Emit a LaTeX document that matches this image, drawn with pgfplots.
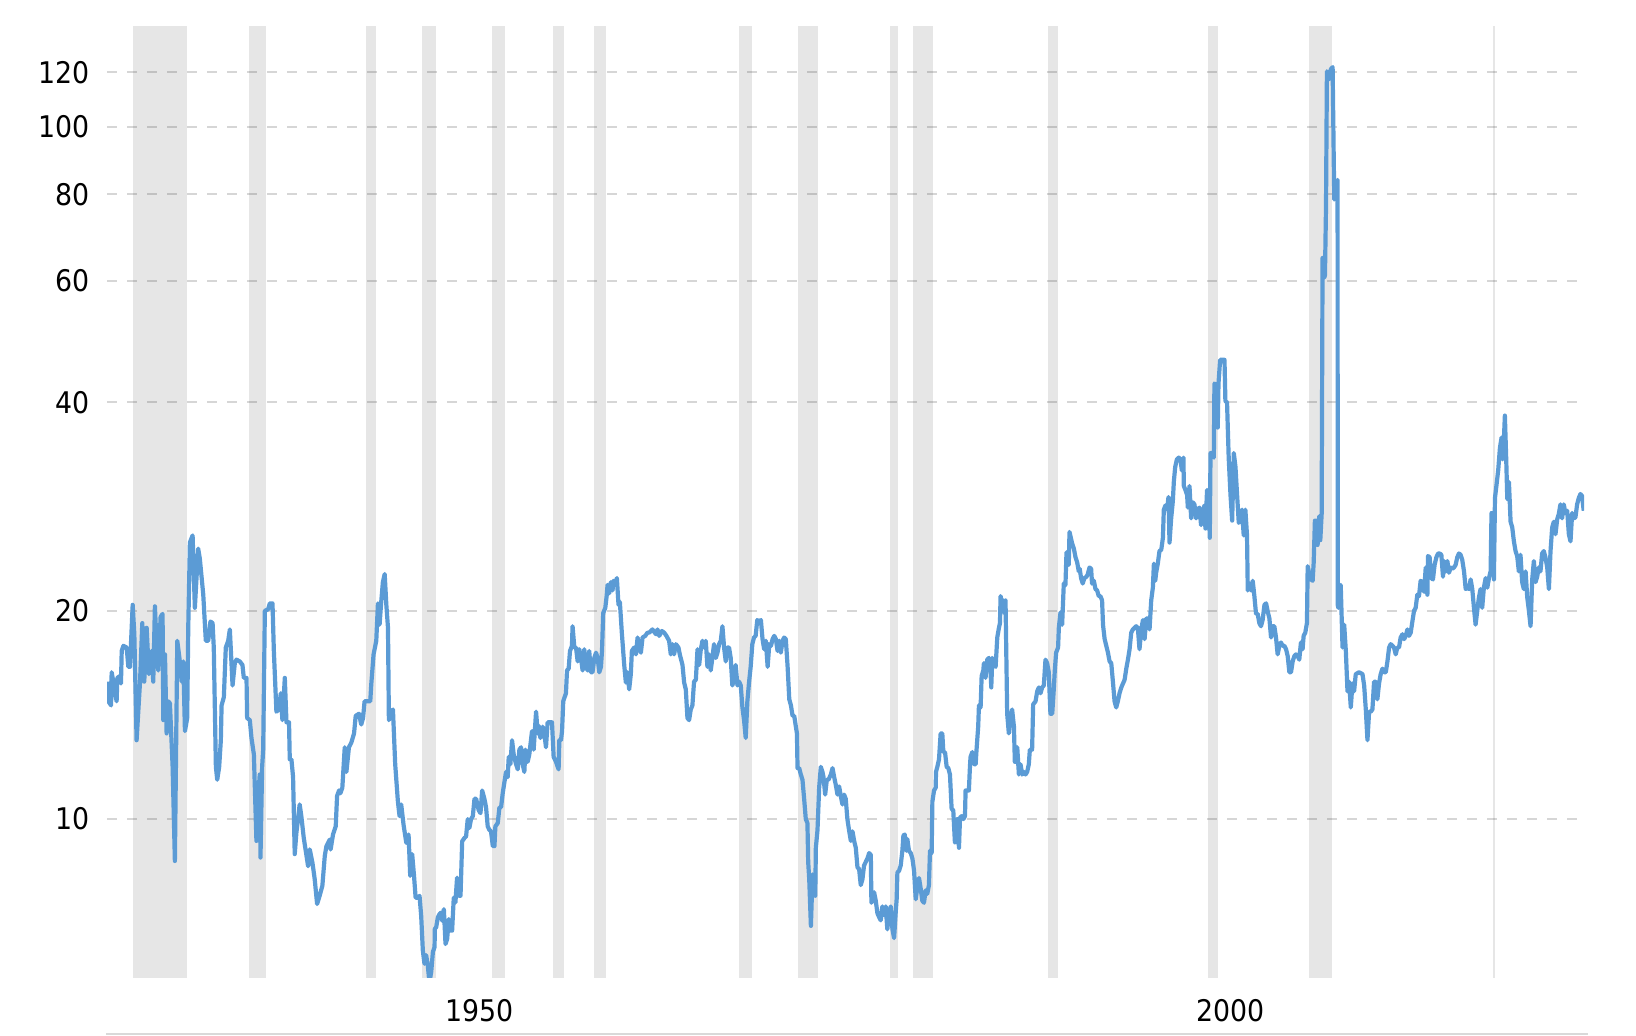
\documentclass[border=0pt]{standalone}
\usepackage{fontspec}
\setmainfont{DejaVu Sans Condensed}
\usepackage{pgfplots}
\pgfplotsset{compat=1.18}
\definecolor{pe}{HTML}{5B9BD5}
\definecolor{band}{HTML}{E6E6E6}
\definecolor{axisgray}{HTML}{D9D9D9}
\pgfplotsset{recession/.style={draw=none, fill=band, on layer=axis background, forget plot}}
\begin{document}
\begin{tikzpicture}
\path (0,0) rectangle (818pt,518pt);
\begin{axis}[
  set layers,
  at={(53.5pt,29.15pt)}, anchor=south west,
  scale only axis, width=738.5pt, height=475.85pt,
  xmin=1927.85, xmax=2026.2,
  ymode=log, ymin=5.9, ymax=140,
  ytick={10,20,40,60,80,100,120}, yticklabels={10,20,40,60,80,100,120},
  xtick={1952.68,2002.68}, xticklabels={1950,2000},
  ymajorgrids,
  grid style={dash pattern=on 5pt off 5pt, line width=1pt, color=black, opacity=0.16},
  axis line style={draw=none}, major tick length=0pt, minor tick length=0pt,
  tick style={draw=none},
  ticklabel style={font=\fontsize{14.9pt}{18pt}\selectfont, inner sep=0pt, text=black},
  xticklabel style={anchor=north, yshift=-10.8pt},
  yticklabel style={anchor=east, xshift=-8.5pt},
]
\addplot[recession] coordinates {(1929.58,5.9) (1933.17,5.9) (1933.17,140) (1929.58,140)};
\addplot[recession] coordinates {(1937.33,5.9) (1938.42,5.9) (1938.42,140) (1937.33,140)};
\addplot[recession] coordinates {(1945.08,5.9) (1945.75,5.9) (1945.75,140) (1945.08,140)};
\addplot[recession] coordinates {(1948.83,5.9) (1949.75,5.9) (1949.75,140) (1948.83,140)};
\addplot[recession] coordinates {(1953.50,5.9) (1954.33,5.9) (1954.33,140) (1953.50,140)};
\addplot[recession] coordinates {(1957.58,5.9) (1958.25,5.9) (1958.25,140) (1957.58,140)};
\addplot[recession] coordinates {(1960.25,5.9) (1961.08,5.9) (1961.08,140) (1960.25,140)};
\addplot[recession] coordinates {(1969.92,5.9) (1970.83,5.9) (1970.83,140) (1969.92,140)};
\addplot[recession] coordinates {(1973.83,5.9) (1975.17,5.9) (1975.17,140) (1973.83,140)};
\addplot[recession] coordinates {(1980.00,5.9) (1980.50,5.9) (1980.50,140) (1980.00,140)};
\addplot[recession] coordinates {(1981.50,5.9) (1982.83,5.9) (1982.83,140) (1981.50,140)};
\addplot[recession] coordinates {(1990.50,5.9) (1991.17,5.9) (1991.17,140) (1990.50,140)};
\addplot[recession] coordinates {(2001.17,5.9) (2001.83,5.9) (2001.83,140) (2001.17,140)};
\addplot[recession] coordinates {(2007.92,5.9) (2009.42,5.9) (2009.42,140) (2007.92,140)};
\addplot[recession] coordinates {(2020.12,5.9) (2020.28,5.9) (2020.28,140) (2020.12,140)};

\addplot[color=pe, line width=2.1pt, line join=round] table {
x y
1927.85 15.8
1927.94 14.8
1928.12 14.6
1928.16 16.3
1928.27 15.8
1928.38 15.3
1928.49 14.8
1928.54 16.0
1928.72 16.1
1928.78 15.7
1928.83 17.5
1928.94 17.8
1929.16 17.7
1929.27 16.6
1929.38 16.6
1929.56 20.4
1929.67 18.5
1929.82 13.0
1930.05 15.8
1930.20 19.2
1930.33 15.8
1930.49 18.9
1930.64 16.2
1930.82 17.5
1930.93 15.8
1931.04 20.3
1931.15 17.9
1931.26 16.4
1931.42 19.6
1931.55 19.8
1931.60 13.9
1931.71 17.3
1931.82 13.3
1931.93 14.8
1932.04 14.7
1932.22 11.9
1932.37 8.7
1932.53 18.1
1932.70 16.9
1932.82 15.8
1932.93 16.9
1933.04 13.4
1933.19 14.0
1933.26 18.9
1933.37 25.1
1933.55 25.7
1933.70 20.2
1933.92 24.6
1934.03 23.8
1934.26 21.1
1934.43 18.1
1934.59 18.1
1934.74 19.3
1934.88 19.2
1934.96 17.7
1935.10 11.9
1935.19 11.4
1935.32 11.9
1935.43 13.0
1935.48 14.6
1935.63 15.0
1935.76 17.7
1935.92 18.1
1936.03 18.8
1936.21 15.6
1936.36 16.8
1936.47 17.0
1936.69 16.9
1936.87 16.7
1936.96 16.0
1937.14 16.0
1937.18 14.0
1937.36 13.9
1937.47 13.1
1937.63 12.4
1937.80 9.3
1937.91 10.7
1938.02 11.6
1938.07 8.8
1938.18 11.9
1938.25 12.6
1938.36 20.0
1938.58 20.1
1938.69 20.5
1938.87 20.5
1938.96 17.5
1939.13 14.3
1939.31 14.4
1939.42 15.2
1939.53 13.9
1939.69 16.0
1939.80 13.8
1939.97 13.8
1940.02 12.2
1940.13 12.2
1940.24 11.5
1940.35 8.9
1940.46 9.55
1940.68 10.5
1940.79 10.1
1940.95 9.4
1941.24 8.55
1941.35 9.04
1941.53 8.65
1941.68 8.19
1941.84 7.54
1942.01 7.75
1942.19 8.01
1942.35 8.84
1942.46 9.14
1942.68 9.34
1942.74 9.04
1942.90 9.5
1943.08 9.76
1943.17 10.8
1943.30 11.0
1943.39 10.9
1943.52 11.1
1943.68 12.7
1943.79 11.7
1943.96 12.7
1944.12 12.9
1944.30 13.3
1944.41 14.1
1944.63 14.2
1944.78 13.7
1944.90 14.0
1945.00 14.8
1945.23 14.8
1945.38 14.8
1945.45 15.7
1945.60 17.3
1945.78 18.1
1945.89 20.5
1946.00 19.1
1946.11 20.6
1946.22 22.0
1946.34 22.6
1946.45 20.4
1946.56 18.9
1946.62 13.9
1946.78 14.3
1946.89 14.4
1947.04 12.0
1947.22 10.6
1947.33 10.1
1947.44 10.5
1947.60 9.8
1947.78 9.24
1947.93 9.5
1948.04 8.28
1948.17 8.9
1948.29 8.3
1948.40 7.70
1948.55 7.70
1948.66 7.75
1948.77 7.25
1948.88 6.46
1948.99 6.18
1949.10 6.36
1949.21 6.15
1949.32 5.8
1949.44 6.02
1949.55 6.43
1949.66 6.53
1949.68 6.94
1949.77 6.98
1949.88 7.21
1949.99 7.29
1950.10 7.33
1950.17 7.13
1950.28 7.41
1950.39 6.60
1950.50 6.71
1950.61 7.17
1950.72 6.90
1950.83 6.90
1950.94 7.70
1951.05 7.58
1951.16 8.23
1951.28 7.75
1951.39 7.75
1951.50 9.29
1951.65 9.39
1951.76 9.44
1951.87 10.0
1951.98 9.71
1952.09 10.0
1952.21 10.1
1952.32 10.7
1952.43 10.7
1952.60 10.3
1952.72 10.2
1952.83 11.0
1952.98 10.7
1953.09 10.4
1953.20 9.76
1953.31 9.65
1953.42 9.6
1953.54 9.14
1953.65 9.14
1953.71 9.76
1953.87 9.87
1953.98 10.4
1954.09 10.4
1954.20 10.9
1954.31 11.3
1954.42 11.7
1954.53 11.5
1954.60 12.3
1954.71 12.0
1954.82 13.0
1954.93 12.4
1955.09 12.0
1955.20 11.8
1955.31 12.6
1955.42 12.7
1955.53 12.0
1955.64 11.7
1955.71 12.6
1955.86 12.1
1955.97 12.4
1956.15 13.4
1956.26 12.6
1956.42 14.3
1956.53 13.3
1956.59 13.65
1956.71 13.1
1956.86 13.6
1956.97 13.3
1957.08 12.7
1957.19 13.8
1957.35 13.8
1957.48 13.8
1957.59 12.3
1957.75 12.1
1957.92 11.8
1957.97 13.0
1958.08 13.0
1958.15 13.4
1958.23 14.8
1958.41 15.2
1958.48 16.4
1958.59 16.5
1958.68 17.5
1958.81 17.8
1958.85 19.0
1958.97 17.7
1959.08 17.7
1959.19 16.9
1959.30 17.6
1959.41 17.1
1959.52 16.4
1959.63 17.6
1959.74 16.7
1959.85 16.4
1959.96 17.5
1960.07 16.3
1960.18 16.3
1960.30 17.1
1960.41 17.4
1960.52 17.1
1960.63 16.3
1960.74 16.6
1960.81 17.5
1960.89 19.85
1961.03 20.2
1961.12 21.0
1961.18 21.8
1961.29 21.2
1961.40 22.0
1961.51 21.4
1961.58 22.1
1961.69 21.9
1961.80 22.3
1961.91 20.4
1962.00 20.6
1962.13 18.6
1962.29 16.7
1962.40 15.75
1962.51 16.3
1962.62 15.4
1962.73 16.2
1962.80 17.5
1962.95 17.7
1963.07 17.3
1963.18 18.3
1963.29 17.7
1963.40 17.4
1963.51 18.3
1963.69 18.4
1963.84 18.6
1963.95 18.6
1964.17 18.8
1964.40 18.5
1964.51 18.8
1964.62 18.4
1964.79 18.7
1964.95 18.6
1965.10 18.4
1965.28 18.1
1965.39 17.3
1965.50 17.9
1965.61 17.3
1965.73 17.9
1965.90 17.7
1965.99 17.3
1966.17 16.7
1966.28 15.75
1966.39 15.4
1966.50 14.0
1966.61 13.9
1966.72 14.4
1966.83 14.6
1966.94 15.8
1967.06 15.9
1967.17 17.6
1967.28 16.7
1967.39 17.6
1967.50 18.1
1967.61 17.7
1967.72 18.1
1967.83 16.6
1967.94 17.3
1968.05 16.4
1968.16 17.1
1968.27 17.9
1968.39 17.1
1968.50 17.4
1968.61 17.9
1968.72 18.1
1968.83 19.0
1968.94 17.7
1969.05 16.9
1969.16 17.7
1969.27 17.7
1969.38 17.1
1969.49 15.6
1969.60 15.9
1969.71 16.7
1969.83 15.6
1969.94 15.8
1970.05 15.6
1970.16 14.5
1970.27 13.9
1970.38 13.1
1970.49 14.8
1970.60 15.75
1970.71 16.6
1970.82 17.9
1970.93 18.3
1971.04 18.4
1971.15 19.4
1971.27 19.3
1971.39 19.4
1971.50 18.2
1971.61 17.6
1971.72 18.1
1971.84 16.6
1971.95 17.9
1972.06 17.8
1972.17 18.2
1972.28 18.4
1972.39 18.2
1972.50 17.5
1972.61 18.1
1972.72 17.4
1972.83 18.1
1972.94 18.3
1973.05 18.2
1973.17 16.6
1973.28 14.9
1973.39 14.6
1973.50 14.1
1973.61 14.1
1973.72 13.6
1973.79 13.3
1973.83 11.85
1973.94 11.85
1974.05 11.6
1974.16 11.4
1974.27 10.7
1974.38 10.0
1974.49 9.87
1974.54 8.67
1974.61 8.18
1974.72 7.01
1974.83 8.32
1974.94 8.18
1975.01 7.75
1975.05 9.09
1975.16 9.64
1975.27 11.1
1975.38 11.9
1975.49 11.7
1975.56 11.5
1975.67 10.85
1975.78 11.4
1975.89 11.4
1976.05 11.6
1976.16 11.85
1976.27 11.5
1976.38 11.2
1976.49 10.85
1976.60 11.15
1976.71 10.8
1976.82 10.5
1976.93 10.85
1977.04 10.7
1977.15 10.0
1977.26 9.64
1977.38 9.3
1977.49 9.6
1977.60 9.3
1977.71 9.09
1977.82 8.52
1977.93 8.47
1978.04 8.03
1978.15 8.18
1978.26 8.57
1978.37 8.67
1978.48 8.77
1978.60 8.93
1978.71 8.88
1978.75 7.57
1978.82 7.70
1978.93 7.84
1979.04 7.62
1979.15 7.31
1979.26 7.22
1979.37 7.14
1979.48 7.48
1979.59 7.27
1979.70 7.48
1979.81 6.93
1979.93 7.35
1980.04 7.48
1980.15 6.93
1980.26 6.73
1980.37 7.35
1980.43 7.66
1980.48 8.37
1980.59 8.42
1980.70 8.57
1980.81 9.0
1980.88 9.47
1980.97 9.5
1981.08 9.0
1981.14 9.36
1981.25 9.0
1981.37 8.93
1981.48 8.77
1981.59 8.42
1981.70 7.66
1981.81 7.98
1981.92 8.22
1982.03 7.94
1982.14 7.62
1982.25 7.57
1982.36 7.89
1982.47 7.8
1982.58 8.03
1982.65 9.0
1982.76 8.93
1982.81 10.6
1982.92 11.0
1983.03 11.1
1983.05 11.7
1983.14 11.9
1983.25 12.2
1983.36 13.3
1983.47 13.3
1983.54 12.5
1983.65 12.5
1983.76 11.9
1983.87 11.85
1983.98 11.6
1984.09 10.35
1984.20 10.3
1984.31 9.25
1984.42 9.3
1984.47 10.0
1984.58 9.09
1984.65 10.05
1984.76 10.1
1984.87 10.0
1984.98 10.1
1985.02 11.0
1985.13 11.0
1985.24 11.0
1985.31 11.9
1985.35 12.3
1985.47 12.5
1985.58 12.0
1985.69 12.0
1985.75 12.6
1985.86 13.6
1985.91 14.6
1986.02 14.5
1986.09 16.1
1986.20 16.4
1986.24 16.8
1986.35 16.0
1986.46 17.0
1986.57 17.1
1986.68 16.4
1986.73 15.5
1986.80 17.1
1986.91 16.7
1987.02 16.6
1987.13 18.3
1987.24 18.9
1987.31 19.2
1987.35 21.0
1987.46 20.5
1987.53 20.7
1987.64 19.8
1987.68 20.7
1987.79 14.2
1987.90 13.3
1988.01 14.1
1988.12 14.4
1988.24 13.6
1988.30 12.1
1988.41 12.1
1988.46 12.7
1988.57 11.6
1988.68 12.0
1988.79 11.6
1988.90 11.7
1989.01 11.6
1989.12 11.7
1989.23 12.0
1989.30 12.6
1989.45 12.6
1989.52 14.65
1989.68 14.8
1989.79 15.3
1989.90 15.5
1990.01 15.2
1990.12 15.5
1990.23 15.6
1990.34 17.0
1990.45 16.8
1990.56 16.3
1990.67 14.2
1990.79 14.2
1990.90 15.5
1990.96 16.4
1991.05 17.4
1991.18 17.7
1991.23 18.9
1991.34 19.9
1991.45 19.1
1991.56 21.9
1991.67 21.8
1991.74 24.3
1991.89 23.3
1991.94 26.0
1992.11 25.05
1992.23 24.6
1992.34 23.9
1992.45 23.5
1992.56 22.8
1992.62 23.0
1992.71 22.3
1992.82 21.9
1992.93 22.3
1993.07 22.4
1993.16 22.6
1993.27 23.1
1993.38 23.0
1993.44 21.9
1993.56 22.1
1993.67 21.5
1993.78 21.4
1993.89 21.0
1994.00 21.0
1994.11 20.7
1994.17 19.1
1994.28 18.2
1994.39 17.8
1994.50 17.4
1994.61 16.9
1994.72 16.8
1994.83 15.8
1994.94 14.8
1995.05 14.5
1995.16 14.8
1995.27 15.2
1995.39 15.5
1995.50 15.7
1995.61 15.9
1995.72 16.5
1995.83 17.0
1995.94 17.6
1996.05 18.6
1996.16 18.8
1996.27 18.9
1996.38 19.0
1996.49 18.9
1996.60 17.6
1996.72 18.8
1996.83 19.4
1996.94 18.2
1997.05 19.5
1997.16 19.5
1997.27 18.8
1997.38 20.7
1997.49 21.6
1997.56 23.4
1997.65 22.1
1997.71 22.7
1997.82 23.4
1997.93 24.4
1998.05 24.5
1998.16 25.5
1998.22 28.0
1998.33 28.4
1998.44 28.0
1998.53 29.2
1998.60 25.1
1998.71 27.2
1998.82 28.8
1998.89 30.8
1998.98 32.3
1999.09 33.1
1999.22 33.3
1999.33 33.1
1999.42 31.9
1999.53 33.3
1999.55 30.3
1999.66 29.9
1999.77 29.4
1999.82 28.2
1999.93 30.3
2000.04 27.2
2000.15 28.7
2000.26 28.5
2000.37 27.2
2000.48 28.0
2000.59 28.2
2000.70 26.6
2000.82 27.9
2000.93 28.4
2000.99 26.3
2001.10 29.9
2001.21 29.2
2001.28 25.5
2001.33 33.8
2001.44 33.8
2001.55 33.3
2001.59 42.6
2001.70 42.4
2001.81 36.8
2001.86 42.6
2001.97 46.1
2002.15 46.1
2002.26 46.1
2002.32 40.2
2002.43 40.0
2002.54 33.3
2002.66 29.4
2002.77 27.0
2002.88 33.8
2002.99 32.3
2003.10 29.4
2003.21 26.8
2003.32 27.0
2003.43 28.0
2003.54 25.7
2003.65 28.0
2003.76 25.7
2003.81 21.4
2003.92 21.9
2004.03 21.4
2004.14 22.1
2004.25 21.0
2004.36 19.8
2004.47 19.8
2004.58 19.2
2004.69 19.0
2004.80 19.4
2004.92 20.4
2005.03 20.5
2005.14 19.95
2005.25 19.5
2005.36 18.3
2005.47 19.0
2005.58 19.0
2005.69 18.3
2005.80 17.3
2005.91 17.8
2006.02 18.0
2006.13 17.8
2006.25 17.8
2006.36 17.6
2006.47 17.2
2006.58 16.3
2006.69 16.3
2006.80 16.9
2006.91 17.2
2007.02 17.3
2007.13 17.2
2007.24 17.0
2007.35 18.0
2007.46 17.6
2007.53 18.4
2007.64 18.6
2007.75 19.2
2007.80 23.2
2007.91 22.6
2008.02 22.2
2008.13 22.1
2008.20 23.5
2008.28 27.0
2008.40 27.0
2008.46 24.9
2008.57 27.4
2008.64 25.3
2008.73 27.6
2008.79 64.7
2008.91 60.6
2008.95 61.1
2009.02 76.9
2009.08 120.4
2009.17 117.0
2009.26 119.5
2009.35 121.3
2009.46 122.1
2009.53 91.5
2009.57 78.6
2009.68 80.3
2009.79 83.9
2009.80 20.4
2009.84 20.2
2009.89 20.5
2010.00 21.8
2010.12 17.7
2010.23 19.1
2010.34 17.5
2010.45 15.3
2010.56 15.8
2010.67 14.5
2010.78 15.7
2010.89 15.3
2011.00 16.2
2011.22 16.3
2011.45 16.2
2011.56 15.6
2011.67 14.4
2011.78 13.0
2011.89 14.3
2012.00 14.3
2012.11 14.4
2012.22 15.8
2012.33 15.8
2012.44 14.9
2012.55 15.7
2012.66 16.2
2012.78 16.5
2012.89 16.3
2013.00 16.3
2013.11 16.9
2013.22 17.7
2013.33 17.9
2013.44 17.8
2013.55 17.7
2013.66 17.3
2013.77 17.7
2013.88 17.7
2013.99 18.3
2014.11 18.5
2014.22 18.2
2014.33 18.4
2014.44 18.8
2014.55 18.4
2014.66 18.6
2014.77 19.3
2014.88 20.0
2014.99 20.2
2015.10 21.1
2015.21 21.0
2015.32 22.1
2015.43 22.0
2015.55 21.3
2015.66 23.1
2015.77 21.1
2015.81 24.0
2015.92 23.9
2016.03 22.3
2016.14 22.2
2016.25 23.3
2016.37 23.9
2016.48 24.2
2016.59 24.2
2016.70 24.1
2016.81 22.4
2016.88 23.6
2016.99 22.8
2017.10 23.6
2017.21 22.7
2017.32 23.1
2017.43 23.0
2017.54 23.1
2017.65 23.3
2017.76 23.9
2017.87 24.2
2017.98 24.1
2018.09 23.7
2018.21 22.8
2018.32 21.5
2018.43 21.6
2018.54 21.5
2018.65 22.2
2018.76 21.5
2018.87 20.2
2018.98 19.1
2019.09 20.0
2019.20 20.9
2019.31 21.5
2019.42 20.2
2019.53 21.6
2019.65 22.3
2019.76 21.6
2019.87 22.3
2019.98 22.8
2020.04 27.7
2020.13 27.6
2020.20 22.2
2020.27 29.1
2020.38 30.5
2020.49 32.0
2020.60 34.4
2020.71 35.6
2020.78 33.1
2020.86 35.2
2020.93 38.3
2021.02 33.1
2021.09 29.0
2021.20 30.7
2021.31 26.9
2021.42 26.4
2021.53 25.2
2021.64 24.4
2021.75 24.0
2021.86 22.8
2021.97 24.1
2022.08 22.0
2022.19 21.5
2022.31 22.8
2022.42 20.9
2022.53 20.0
2022.64 19.0
2022.75 22.2
2022.86 23.6
2022.97 22.0
2023.08 22.4
2023.19 23.1
2023.30 22.8
2023.41 24.2
2023.52 24.4
2023.63 23.9
2023.75 23.1
2023.86 21.5
2023.97 24.4
2024.08 26.4
2024.19 26.9
2024.30 25.8
2024.41 27.1
2024.52 27.6
2024.63 28.5
2024.74 27.2
2024.85 28.5
2024.96 27.7
2025.08 27.9
2025.19 25.8
2025.30 25.2
2025.41 27.7
2025.52 27.2
2025.63 27.3
2025.74 28.5
2025.85 29.1
2025.96 29.5
2026.07 29.3
2026.18 27.9
};
\end{axis}
\draw[axisgray, line width=1pt] (53pt,1pt) -- (794pt,1pt);
\end{tikzpicture}
\end{document}
